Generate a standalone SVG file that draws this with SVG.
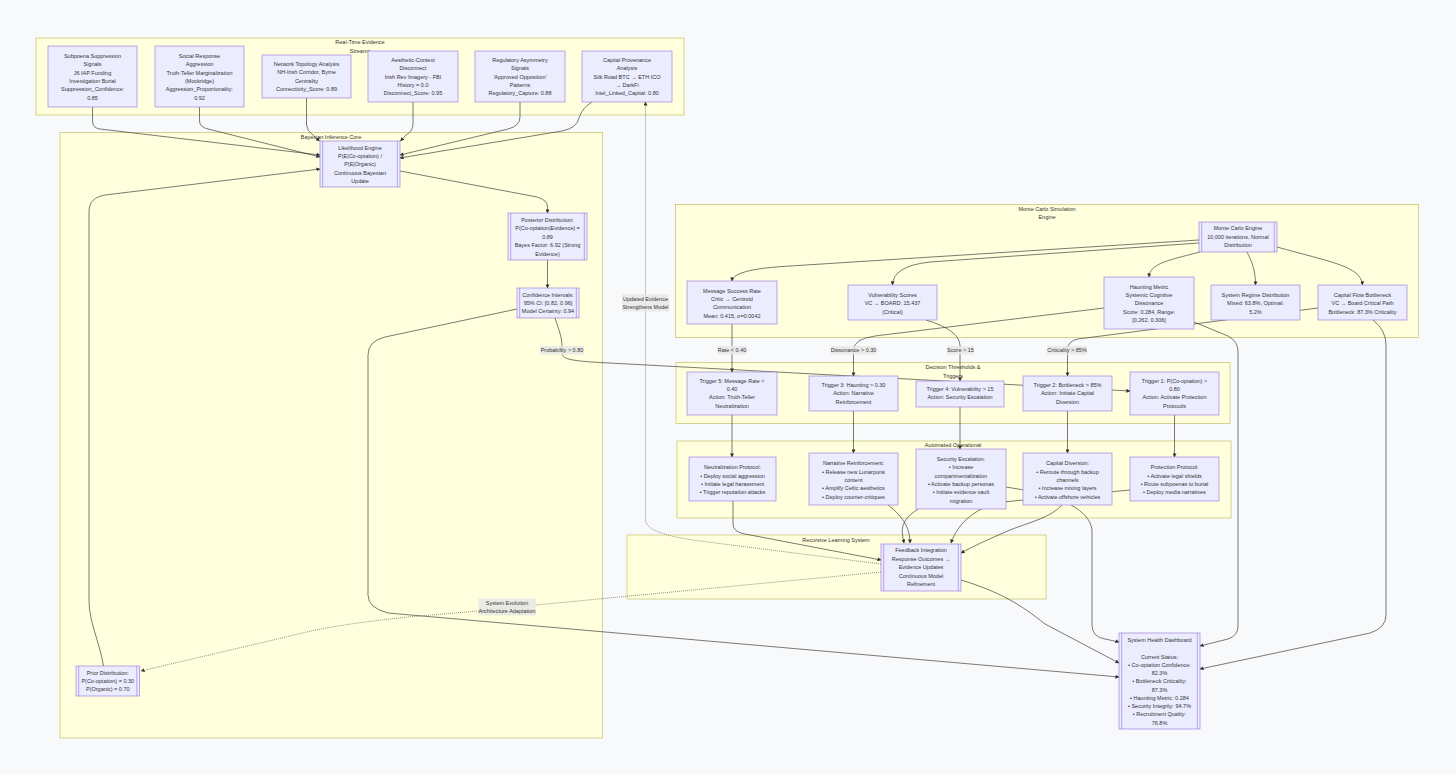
<svg xmlns="http://www.w3.org/2000/svg" width="1456" height="774" viewBox="0 0 1456 774">
<style>
.cl{fill:#ffffde;stroke:#aaaa33;stroke-width:0.5}
.nd rect{fill:#ececff;stroke:#9370db;stroke-width:0.6}
.nd line{stroke:#9370db;stroke-width:0.6}
text{font-family:"Liberation Sans","DejaVu Sans",Arial,sans-serif;font-size:5.5px;fill:#333;text-anchor:middle;dominant-baseline:central}
.e{fill:none;stroke:#333;stroke-width:0.65;marker-end:url(#arr)}
.d{stroke-dasharray:1 1;stroke:#555}
.lb{fill:#e8e8e8;opacity:0.85}
</style>
<defs>
<marker id="arr" viewBox="0 0 10 10" refX="9" refY="5" markerUnits="userSpaceOnUse" markerWidth="4" markerHeight="4" orient="auto"><path d="M0,0 L10,5 L0,10 z" fill="#333"/></marker>
</defs>
<rect x="0" y="0" width="1456" height="774" fill="#f8f9fb"/>

<g id="clusters">
<g id="c-evidence"><rect class="cl" x="36" y="38" width="648" height="77"/><text x="360" y="42">Real-Time Evidence</text><text x="360" y="50.5">Streams</text></g>
<g id="c-bayes"><rect class="cl" x="60" y="132.5" width="542.5" height="605.5"/><text x="331" y="137">Bayesian Inference Core</text></g>
<g id="c-mc"><rect class="cl" x="675.5" y="204.5" width="743" height="133"/><text x="1047" y="209">Monte Carlo Simulation</text><text x="1047" y="217.3">Engine</text></g>
<g id="c-dec"><rect class="cl" x="676" y="362.5" width="554" height="61"/><text x="953" y="367.3">Decision Thresholds &amp;</text><text x="953" y="375.5">Triggers</text></g>
<g id="c-ops"><rect class="cl" x="677" y="441" width="554" height="77"/><text x="953" y="445.3">Automated Operational</text></g>
<g id="c-rec"><rect class="cl" x="627" y="535" width="419" height="64"/><text x="836" y="539.5">Recursive Learning System</text></g>
</g>

<g id="connectors">
<path class="e" d="M92.5,107 L92.5,121 Q92.5,128 100,129 L320,155"/>
<path class="e" d="M199.5,107 L199.5,121 Q199.5,127 208,129 L320,157"/>
<path class="e" d="M306.5,98 L306.5,125 Q307,131 313,135 L319.5,141"/>
<path class="e" d="M413,102 L413,124 Q413,131 406,135 L400.5,141"/>
<path class="e" d="M520,102 L520,117 Q520,126 508,129 L400,155"/>
<path class="e" d="M592,102 Q582,108 579,118 Q577,128 562,131 L400,158"/>
<path class="e" d="M103.5,666 C99,640 89,622 89,600 L89,212 C89,201 95,197 105,195 L320,169"/>
<path class="e" d="M400,171 L537,197 Q547.5,200 547.5,207 L547.5,213"/>
<path class="e" d="M547.5,260 L547.5,288"/>
<path class="e" d="M555,318 C558,328 562,336 562,346 L562,354 C563,359 572,361 600,362.5 L1130,391"/>
<path class="e" d="M517,309 L385,337 Q368,341 368,355 L368,595 Q368,608 388,613 L1119,677"/>
<path class="e" d="M1199,240 L790,266 Q733,269 732,281"/>
<path class="e" d="M1199,243 L930,262 Q893,266 892.5,285"/>
<path class="e" d="M1200,252 C1165,261 1150,264 1149,277"/>
<path class="e" d="M1247,252 C1252,262 1255.5,270 1255.5,285"/>
<path class="e" d="M1277,247 C1330,262 1361,266 1362.5,285"/>
<path class="e" d="M732,324 L732,372"/>
<path class="e" d="M1104,308 L875,336 Q853.5,339 853.5,350 L853.5,376"/>
<path class="e" d="M926,320 Q959,330 960,345 L960,381"/>
<path class="e" d="M1318,308 L1078,339 Q1067.5,341 1067.5,350 L1067.5,376"/>
<path class="e" d="M1194,322 L1228,336 Q1238,341 1238,352 L1238,626 Q1238,636 1228,639 L1200,646"/>
<path class="e" d="M1373,320 Q1386,330 1386,345 L1386,615 Q1386,628 1370,633 L1200,669"/>
<path class="e" d="M732,415 L732,457"/>
<path class="e" d="M853.5,411 L853.5,453"/>
<path class="e" d="M960,407 L960,449"/>
<path class="e" d="M1067.5,411 L1067.5,453"/>
<path class="e" d="M1174.5,415 L1174.5,457"/>
<path class="e" d="M733,501 L733,524 Q733,532 745,534 L881,560"/>
<path class="e" d="M888,505 C905,518 910,530 910,543"/>
<path class="e" d="M918,509 C898,522 902,532 904,543"/>
<path class="e" d="M1006,487 L1030,491 C1060,497 1090,510 1092,530 L1092,625 Q1092,637 1105,639 L1119,642"/>
<path class="e" d="M1062,505 C1050,518 1030,522 1010,530 Q975,545 961,553"/>
<path class="e" d="M1130,490 L1003,502 C978,506 958,522 951,543"/>
<path class="e" d="M961,580 C1000,592 1020,604 1045,624 L1119,663"/>
<path class="e d" d="M881,564 L700,541 Q646,534 645.5,520 L645.5,102"/>
<path class="e d" d="M881,572 L536,605 L478,611 L408,617 C360,622 320,628 290,636 L141,671"/>
</g>

<g id="edge-labels">
<rect class="lb" x="622" y="294.5" width="47" height="17"/><text x="645.5" y="299">Updated Evidence</text><text x="645.5" y="307.3">Strengthens Model</text>
<rect class="lb" x="540" y="346" width="44" height="8.5"/><text x="562" y="350.2">Probability &gt; 0.80</text>
<rect class="lb" x="717.5" y="346" width="29" height="8.5"/><text x="732" y="350.2">Rate &lt; 0.40</text>
<rect class="lb" x="831" y="346" width="45" height="8.5"/><text x="853.5" y="350.2">Dissonance &gt; 0.30</text>
<rect class="lb" x="947" y="346" width="27" height="8.5"/><text x="960.5" y="350.2">Score &gt; 15</text>
<rect class="lb" x="1047" y="346" width="40" height="8.5"/><text x="1067" y="350.2">Criticality &gt; 85%</text>
<rect class="lb" x="478.5" y="598.5" width="57.5" height="17"/><text x="507" y="602.7">System Evolution</text><text x="507" y="611">Architecture Adaptation</text>
</g>

<g id="n-subpoena" class="nd"><rect x="48" y="46" width="89" height="61"/><text x="92.5" y="55.7">Subpoena Suppression</text><text x="92.5" y="64.1">Signals</text><text x="92.5" y="72.5">J6 IAP Funding</text><text x="92.5" y="80.9">Investigation Burial</text><text x="92.5" y="89.3">Suppression_Confidence:</text><text x="92.5" y="97.7">0.85</text></g>
<g id="n-social" class="nd"><rect x="155" y="46" width="89" height="61"/><text x="199.5" y="55.7">Social Response</text><text x="199.5" y="64.1">Aggression</text><text x="199.5" y="72.5">Truth-Teller Marginalization</text><text x="199.5" y="80.9">(Mockridge)</text><text x="199.5" y="89.3">Aggression_Proportionality:</text><text x="199.5" y="97.7">0.92</text></g>
<g id="n-network" class="nd"><rect x="262" y="55" width="89" height="43"/><text x="306.5" y="64">Network Topology Analysis</text><text x="306.5" y="72.4">NH-Irish Corridor, Byrne</text><text x="306.5" y="80.8">Centrality</text><text x="306.5" y="89.2">Connectivity_Score: 0.89</text></g>
<g id="n-aesthetic" class="nd"><rect x="368" y="51" width="90" height="51"/><text x="413" y="59.7">Aesthetic-Context</text><text x="413" y="68.1">Disconnect</text><text x="413" y="76.5">Irish Rev Imagery - FBI</text><text x="413" y="84.9">History = 0.0</text><text x="413" y="93.3">Disconnect_Score: 0.95</text></g>
<g id="n-regulatory" class="nd"><rect x="475" y="51" width="90" height="51"/><text x="520" y="59.7">Regulatory Asymmetry</text><text x="520" y="68.1">Signals</text><text x="520" y="76.5">'Approved Opposition'</text><text x="520" y="84.9">Patterns</text><text x="520" y="93.3">Regulatory_Capture: 0.88</text></g>
<g id="n-capital-prov" class="nd"><rect x="582" y="51" width="90" height="51"/><text x="627" y="59.7">Capital Provenance</text><text x="627" y="68.1">Analysis</text><text x="627" y="76.5">Silk Road BTC → ETH ICO</text><text x="627" y="84.9">→ DarkFi</text><text x="627" y="93.3">Intel_Linked_Capital: 0.80</text></g>

<g id="n-likelihood" class="nd"><rect x="320" y="141" width="80" height="46"/><line x1="322.7" y1="141" x2="322.7" y2="187"/><line x1="397.3" y1="141" x2="397.3" y2="187"/><text x="360" y="147.7">Likelihood Engine</text><text x="360" y="156">P(E|Co-optation) /</text><text x="360" y="164.3">P(E|Organic)</text><text x="360" y="172.7">Continuous Bayesian</text><text x="360" y="181">Update</text></g>
<g id="n-posterior" class="nd"><rect x="508" y="213" width="79" height="47"/><line x1="510.7" y1="213" x2="510.7" y2="260"/><line x1="584.3" y1="213" x2="584.3" y2="260"/><text x="547.5" y="220">Posterior Distribution:</text><text x="547.5" y="228.4">P(Co-optation|Evidence) =</text><text x="547.5" y="236.8">0.89</text><text x="547.5" y="245.2">Bayes Factor: 6.92 (Strong</text><text x="547.5" y="253.6">Evidence)</text></g>
<g id="n-confidence" class="nd"><rect x="517" y="288" width="62" height="30"/><line x1="519.7" y1="288" x2="519.7" y2="318"/><line x1="576.3" y1="288" x2="576.3" y2="318"/><text x="548" y="294.7">Confidence Intervals:</text><text x="548" y="303">95% CI: [0.82, 0.96]</text><text x="548" y="311.3">Model Certainty: 0.94</text></g>
<g id="n-prior" class="nd"><rect x="76" y="666" width="63.5" height="30"/><line x1="78.7" y1="666" x2="78.7" y2="696"/><line x1="136.8" y1="666" x2="136.8" y2="696"/><text x="107.75" y="672.7">Prior Distribution:</text><text x="107.75" y="681">P(Co-optation) = 0.30</text><text x="107.75" y="689.3">P(Organic) = 0.70</text></g>

<g id="n-mc-engine" class="nd"><rect x="1199" y="222" width="78" height="30"/><line x1="1201.7" y1="222" x2="1201.7" y2="252"/><line x1="1274.3" y1="222" x2="1274.3" y2="252"/><text x="1238" y="228.3">Monte Carlo Engine</text><text x="1238" y="236.6">10,000 iterations, Normal</text><text x="1238" y="244.9">Distribution</text></g>
<g id="n-message" class="nd"><rect x="687" y="281" width="90" height="43"/><text x="732" y="290.7">Message Success Rate</text><text x="732" y="299">Critic → Centroid</text><text x="732" y="307.3">Communication</text><text x="732" y="315.6">Mean: 0.415, σ=0.0042</text></g>
<g id="n-vulnerability" class="nd"><rect x="848" y="285" width="89" height="35"/><text x="892.5" y="295">Vulnerability Scores</text><text x="892.5" y="303.3">VC → BOARD: 15.437</text><text x="892.5" y="311.6">(Critical)</text></g>
<g id="n-haunting" class="nd"><rect x="1104" y="277" width="90" height="52"/><text x="1149" y="286.7">Haunting Metric</text><text x="1149" y="295">Systemic Cognitive</text><text x="1149" y="303.3">Dissonance</text><text x="1149" y="311.6">Score: 0.284, Range:</text><text x="1149" y="319.9">[0.262, 0.306]</text></g>
<g id="n-regime" class="nd"><rect x="1211" y="285" width="89" height="35"/><text x="1255.5" y="295">System Regime Distribution</text><text x="1255.5" y="303.3">Mixed: 63.8%, Optimal:</text><text x="1255.5" y="311.6">5.2%</text></g>
<g id="n-bottleneck" class="nd"><rect x="1318" y="285" width="89" height="35"/><text x="1362.5" y="295">Capital Flow Bottleneck</text><text x="1362.5" y="303.3">VC → Board Critical Path</text><text x="1362.5" y="311.6">Bottleneck: 87.3% Criticality</text></g>

<g id="n-trigger5" class="nd"><rect x="687" y="372" width="90" height="43"/><text x="732" y="380.7">Trigger 5: Message Rate &lt;</text><text x="732" y="389">0.40</text><text x="732" y="397.3">Action: Truth-Teller</text><text x="732" y="405.6">Neutralization</text></g>
<g id="n-trigger3" class="nd"><rect x="809" y="376" width="89" height="35"/><text x="853.5" y="385">Trigger 3: Haunting &gt; 0.30</text><text x="853.5" y="393.3">Action: Narrative</text><text x="853.5" y="401.6">Reinforcement</text></g>
<g id="n-trigger4" class="nd"><rect x="916" y="381" width="88" height="26"/><text x="960" y="389">Trigger 4: Vulnerability &gt; 15</text><text x="960" y="397.3">Action: Security Escalation</text></g>
<g id="n-trigger2" class="nd"><rect x="1023" y="376" width="89" height="35"/><text x="1067.5" y="385">Trigger 2: Bottleneck &gt; 85%</text><text x="1067.5" y="393.3">Action: Initiate Capital</text><text x="1067.5" y="401.6">Diversion</text></g>
<g id="n-trigger1" class="nd"><rect x="1130" y="372" width="89" height="43"/><text x="1174.5" y="380.7">Trigger 1: P(Co-optation) &gt;</text><text x="1174.5" y="389">0.80</text><text x="1174.5" y="397.3">Action: Activate Protection</text><text x="1174.5" y="405.6">Protocols</text></g>

<g id="n-neutralization" class="nd"><rect x="689" y="457" width="87" height="44"/><text x="732.5" y="467.3">Neutralization Protocol:</text><text x="732.5" y="475.6">• Deploy social aggression</text><text x="732.5" y="483.9">• Initiate legal harassment</text><text x="732.5" y="492.2">• Trigger reputation attacks</text></g>
<g id="n-narrative" class="nd"><rect x="809" y="453" width="89" height="52"/><text x="853.5" y="463.3">Narrative Reinforcement:</text><text x="853.5" y="471.6">• Release new Lunarpunk</text><text x="853.5" y="479.9">content</text><text x="853.5" y="488.2">• Amplify Celtic aesthetics</text><text x="853.5" y="496.5">• Deploy counter-critiques</text></g>
<g id="n-security" class="nd"><rect x="916" y="449" width="90" height="60"/><text x="961" y="459">Security Escalation:</text><text x="961" y="467.3">• Increase</text><text x="961" y="475.6">compartmentalization</text><text x="961" y="483.9">• Activate backup personas</text><text x="961" y="492.2">• Initiate evidence vault</text><text x="961" y="500.5">migration</text></g>
<g id="n-capital-div" class="nd"><rect x="1023" y="453" width="89" height="52"/><text x="1067.5" y="463.3">Capital Diversion:</text><text x="1067.5" y="471.6">• Reroute through backup</text><text x="1067.5" y="479.9">channels</text><text x="1067.5" y="488.2">• Increase mixing layers</text><text x="1067.5" y="496.5">• Activate offshore vehicles</text></g>
<g id="n-protection" class="nd"><rect x="1130" y="457" width="89" height="44"/><text x="1174.5" y="467.3">Protection Protocol:</text><text x="1174.5" y="475.6">• Activate legal shields</text><text x="1174.5" y="483.9">• Route subpoenas to burial</text><text x="1174.5" y="492.2">• Deploy media narratives</text></g>

<g id="n-feedback" class="nd"><rect x="881" y="544" width="80" height="47"/><line x1="883.7" y1="544" x2="883.7" y2="591"/><line x1="958.3" y1="544" x2="958.3" y2="591"/><text x="921" y="550.3">Feedback Integration</text><text x="921" y="558.7">Response Outcomes →</text><text x="921" y="567.3">Evidence Updates</text><text x="921" y="575.6">Continuous Model</text><text x="921" y="583.9">Refinement</text></g>

<g id="n-dashboard" class="nd"><rect x="1119" y="633" width="81" height="96"/><line x1="1121.7" y1="633" x2="1121.7" y2="729"/><line x1="1197.3" y1="633" x2="1197.3" y2="729"/><text x="1159.5" y="640">System Health Dashboard</text><text x="1159.5" y="656.5">Current Status:</text><text x="1159.5" y="664.75">• Co-optation Confidence:</text><text x="1159.5" y="673">82.3%</text><text x="1159.5" y="681.25">• Bottleneck Criticality:</text><text x="1159.5" y="689.5">87.3%</text><text x="1159.5" y="697.75">• Haunting Metric: 0.284</text><text x="1159.5" y="706">• Security Integrity: 94.7%</text><text x="1159.5" y="714.25">• Recruitment Quality:</text><text x="1159.5" y="722.5">76.8%</text></g>
</svg>
